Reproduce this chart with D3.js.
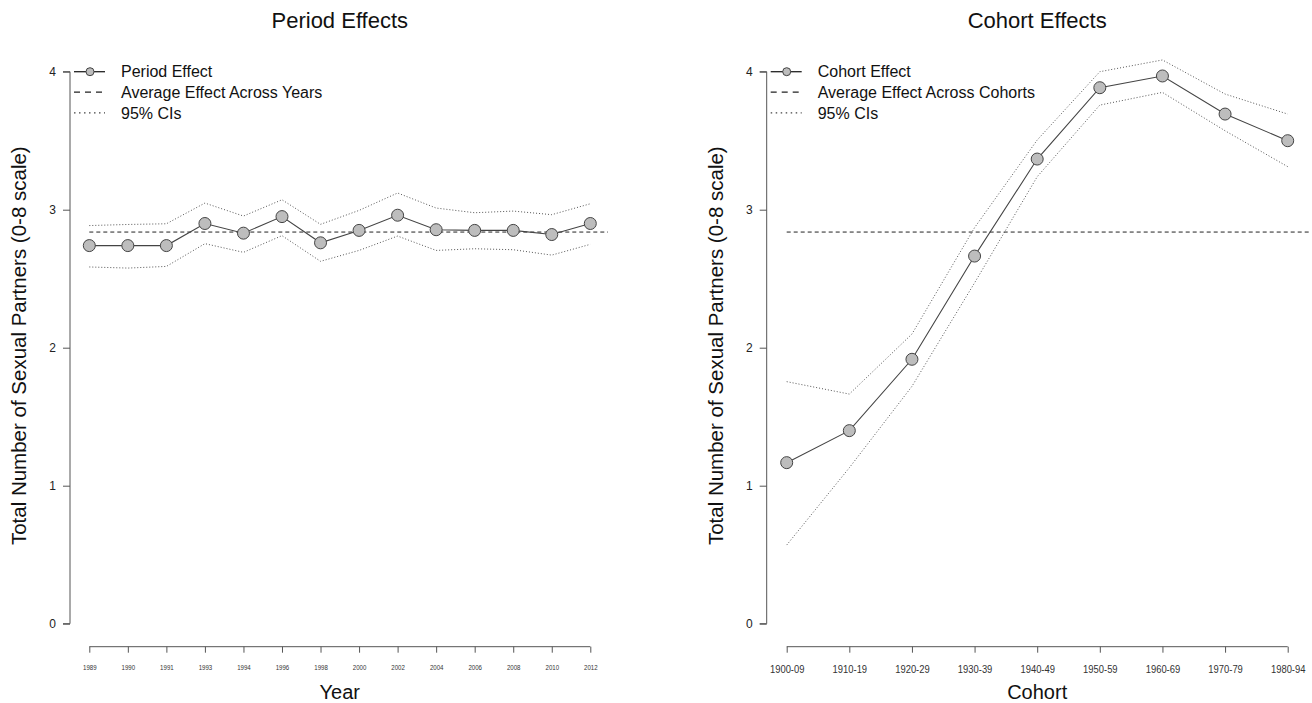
<!DOCTYPE html>
<html>
<head>
<meta charset="utf-8">
<script src="https://cdn.jsdelivr.net/npm/d3@7"></script>
<style>
  body { margin: 0; background: #fff; }
  text { font-family: "Liberation Sans", Arial, sans-serif; fill: #111; }
</style>
</head>
<body>
<svg width="1312" height="703"></svg>
<script>
// period panel data
var years = ["1989", "1990", "1991", "1993", "1994", "1996", "1998", "2000", "2002", "2004", "2006", "2008", "2010", "2012"];
var periodEffect = [2.74, 2.74, 2.74, 2.90, 2.83, 2.95, 2.76, 2.85, 2.96, 2.855, 2.85, 2.85, 2.82, 2.90];
var periodUpper = [2.885, 2.893, 2.898, 3.048, 2.954, 3.072, 2.894, 2.995, 3.121, 3.012, 2.978, 2.99, 2.964, 3.043];
var periodLower = [2.585, 2.577, 2.589, 2.754, 2.691, 2.812, 2.626, 2.705, 2.809, 2.705, 2.717, 2.71, 2.671, 2.749];
var periodAvg = 2.838;

// cohort panel data
var cohorts = ["1900-09", "1910-19", "1920-29", "1930-39", "1940-49", "1950-59", "1960-69", "1970-79", "1980-94"];
var cohortEffect = [1.167, 1.399, 1.916, 2.664, 3.367, 3.884, 3.969, 3.693, 3.50];
var cohortUpper = [1.754, 1.664, 2.099, 2.87, 3.505, 4.0, 4.085, 3.838, 3.693];
var cohortLower = [0.57, 1.13, 1.72, 2.47, 3.239, 3.758, 3.85, 3.572, 3.312];
var cohortAvg = 2.838;

var yTicks = [0, 1, 2, 3, 4];

const svg = d3.select("svg");

// shared y scale (both panels use the same vertical layout)
const y = d3.scaleLinear().domain([0, 4]).range([623.7, 71.7]);

function drawPanel(p) {
  const g = svg.append("g");
  const x = d3.scalePoint().domain(p.cats).range(p.xRange);

  // title
  g.append("text")
    .attr("x", (p.xRange[0] + p.xRange[1]) / 2)
    .attr("y", 28)
    .attr("text-anchor", "middle")
    .style("font-size", "22px")
    .text(p.title);

  // y axis
  const yAxis = g.append("g")
    .attr("transform", `translate(${p.yAxisX},0)`)
    .call(d3.axisLeft(y).tickValues(yTicks).tickFormat(d3.format("d")).tickSize(7).tickPadding(7));
  yAxis.select(".domain").attr("stroke", "#555").attr("d", `M-7,${y(0)}H0V${y(4)}H-7`);
  yAxis.selectAll(".tick line").attr("stroke", "#555");
  yAxis.selectAll(".tick text").style("font-size", "12px").style("fill", "#222")
    .style("font-family", "'Liberation Sans', Arial, sans-serif");

  // y axis title
  g.append("text")
    .attr("transform", `translate(${p.yAxisX - 44},${(y(0) + y(4)) / 2 - 2}) rotate(-90)`)
    .attr("text-anchor", "middle")
    .style("font-size", "20.5px")
    .text("Total Number of Sexual Partners (0-8 scale)");

  // x axis
  const xAxis = g.append("g")
    .attr("transform", "translate(0,646.7)")
    .call(d3.axisBottom(x).tickSize(6).tickSizeOuter(0).tickPadding(12));
  xAxis.select(".domain").attr("stroke", "#555")
    .attr("d", `M${p.xRange[0]},0H${p.xRange[1]}`);
  xAxis.selectAll(".tick line").attr("stroke", "#555");
  // tick labels are drawn condensed, like the original
  xAxis.selectAll(".tick text")
    .style("font-size", p.tickFont + "px")
    .style("fill", "#333")
    .style("font-family", "'Liberation Sans', Arial, sans-serif")
    .attr("transform", `scale(${p.tickSqueeze},1)`);

  // x axis title
  g.append("text")
    .attr("x", (p.xRange[0] + p.xRange[1]) / 2)
    .attr("y", 699)
    .attr("text-anchor", "middle")
    .style("font-size", "20px")
    .text(p.xTitle);

  // average dashed line
  g.append("line")
    .attr("x1", p.xRange[0]).attr("x2", p.avgEnd)
    .attr("y1", y(p.avg)).attr("y2", y(p.avg))
    .attr("stroke", "#222").attr("stroke-width", 1)
    .attr("stroke-dasharray", "4,3");

  const line = d3.line().x((d, i) => x(p.cats[i])).y((d) => y(d));

  // confidence bands as dotted lines
  [p.upper, p.lower].forEach((arr) => {
    g.append("path")
      .attr("d", line(arr))
      .attr("fill", "none")
      .attr("stroke", "#555")
      .attr("stroke-width", 1)
      .attr("stroke-dasharray", "1,2");
  });

  // effect line
  g.append("path")
    .attr("d", line(p.effect))
    .attr("fill", "none")
    .attr("stroke", "#444")
    .attr("stroke-width", 1.1);

  g.selectAll(".pt")
    .data(p.effect)
    .enter()
    .append("circle")
    .attr("cx", (d, i) => x(p.cats[i]))
    .attr("cy", (d) => y(d))
    .attr("r", 6)
    .attr("fill", "#bdbdbd")
    .attr("stroke", "#444")
    .attr("stroke-width", 1);

  // legend
  const lx = p.yAxisX + 4;
  const rows = [71.7, 92.2, 112.8];
  const leg = g.append("g");
  leg.append("line").attr("x1", lx).attr("x2", lx + 31).attr("y1", rows[0]).attr("y2", rows[0])
    .attr("stroke", "#222").attr("stroke-width", 1.3);
  leg.append("circle").attr("cx", lx + 16).attr("cy", rows[0]).attr("r", 4)
    .attr("fill", "#bdbdbd").attr("stroke", "#444");
  leg.append("line").attr("x1", lx).attr("x2", lx + 31).attr("y1", rows[1]).attr("y2", rows[1])
    .attr("stroke", "#222").attr("stroke-width", 1.3).attr("stroke-dasharray", "6,5");
  leg.append("line").attr("x1", lx).attr("x2", lx + 31).attr("y1", rows[2]).attr("y2", rows[2])
    .attr("stroke", "#444").attr("stroke-width", 1.2).attr("stroke-dasharray", "1.5,3.5");
  p.legend.forEach((t, i) => {
    leg.append("text")
      .attr("x", lx + 47)
      .attr("y", rows[i] + 5.7)
      .style("font-size", "16px")
      .text(t);
  });
}

drawPanel({
  title: "Period Effects",
  xTitle: "Year",
  cats: years,
  xRange: [89.3, 590.3],
  yAxisX: 70,
  avg: periodAvg,
  avgEnd: 608,
  effect: periodEffect,
  upper: periodUpper,
  lower: periodLower,
  tickFont: 7,
  tickSqueeze: 0.87,
  legend: ["Period Effect", "Average Effect Across Years", "95% CIs"]
});

drawPanel({
  title: "Cohort Effects",
  xTitle: "Cohort",
  cats: cohorts,
  xRange: [786.7, 1287.7],
  yAxisX: 766.7,
  avg: cohortAvg,
  avgEnd: 1310,
  effect: cohortEffect,
  upper: cohortUpper,
  lower: cohortLower,
  tickFont: 11.5,
  tickSqueeze: 0.82,
  legend: ["Cohort Effect", "Average Effect Across Cohorts", "95% CIs"]
});
</script>
</body>
</html>
